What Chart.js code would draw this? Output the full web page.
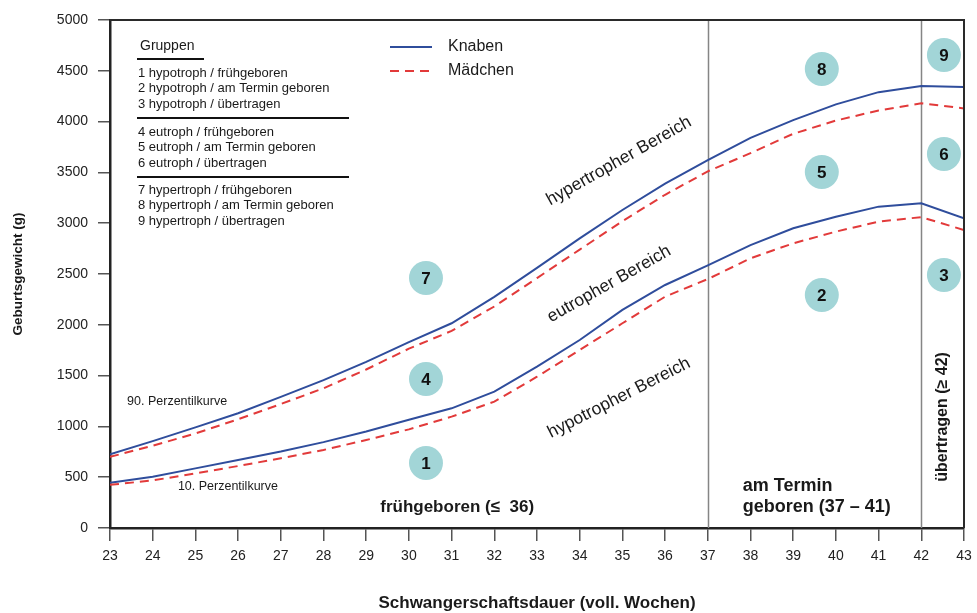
<!DOCTYPE html>
<html>
<head>
<meta charset="utf-8">
<script src="https://cdn.jsdelivr.net/npm/chart.js@4/dist/chart.umd.min.js"></script>
<style>
  html, body { margin: 0; padding: 0; background: #fff; }
  #wrap { width: 977px; height: 613px; }
</style>
</head>
<body>
<div id="wrap"><canvas id="c" width="977" height="613"></canvas></div>
<script>
// Gestational age in completed weeks
const weeks = [23, 24, 25, 26, 27, 28, 29, 30, 31, 32, 33, 34, 35, 36, 37, 38, 39, 40, 41, 42, 43];

// Birth weight percentiles (g)
const knaben90   = [725, 855, 990, 1130, 1290, 1455, 1635, 1830, 2015, 2275, 2560, 2850, 3130, 3390, 3620, 3840, 4015, 4170, 4290, 4350, 4340];
const maedchen90 = [700, 810, 930, 1070, 1220, 1375, 1560, 1765, 1940, 2180, 2460, 2740, 3020, 3280, 3510, 3690, 3880, 4010, 4110, 4180, 4130];
const knaben10   = [445, 505, 587, 670, 752, 845, 950, 1065, 1178, 1342, 1588, 1850, 2146, 2392, 2585, 2785, 2950, 3064, 3163, 3196, 3048];
const maedchen10 = [425, 468, 538, 610, 686, 768, 866, 971, 1096, 1243, 1489, 1752, 2015, 2277, 2450, 2654, 2802, 2917, 3015, 3060, 2933];

// Axis ticks
const xTicks = weeks;
const yTicks = [0, 500, 1000, 1500, 2000, 2500, 3000, 3500, 4000, 4500, 5000];

// Boundaries between preterm / term / post-term
const grenzWochen = [37, 42];

// Group numbers and their places on the chart (week, weight)
const gruppenNr = ['1', '2', '3', '4', '5', '6', '7', '8', '9'];
const gruppenWoche = [30.4, 39.67, 42.53, 30.4, 39.67, 42.53, 30.4, 39.67, 42.53];
const gruppenGewicht = [640, 2293, 2490, 1467, 3504, 3681, 2460, 4518, 4655];

const gruppenText = [
  ['1 hypotroph / frühgeboren', '2 hypotroph / am Termin geboren', '3 hypotroph / übertragen'],
  ['4 eutroph / frühgeboren', '5 eutroph / am Termin geboren', '6 eutroph / übertragen'],
  ['7 hypertroph / frühgeboren', '8 hypertroph / am Termin geboren', '9 hypertroph / übertragen']
];

const FONT = '"Liberation Sans", Arial, Helvetica, sans-serif';
const TEXT = '#1a1a1a';
const BLUE = '#2f4d9c';
const RED = '#e23a3a';
const TEAL = '#a2d5d7';
const DASH = [9, 6];

const toPoints = arr => weeks.map((w, i) => ({ x: w, y: arr[i] }));

const lineStyle = (color, dashed) => ({
  borderColor: color,
  backgroundColor: color,
  borderWidth: 2,
  borderDash: dashed ? DASH : [],
  pointRadius: 0,
  pointHoverRadius: 0,
  tension: 0,
  fill: false
});

// Annotation layer: region borders, group markers, labels, frame, legends, axis titles
const decor = {
  id: 'decor',
  beforeDatasetsDraw(chart) {
    const { ctx, chartArea: a, scales: { x, y } } = chart;
    ctx.save();
    ctx.strokeStyle = '#858585';
    ctx.lineWidth = 1.5;
    grenzWochen.forEach(w => {
      const px = Math.round(x.getPixelForValue(w)) + 0.5;
      ctx.beginPath();
      ctx.moveTo(px, a.top);
      ctx.lineTo(px, a.bottom);
      ctx.stroke();
    });

    // group markers
    gruppenNr.forEach((n, i) => {
      const cx = x.getPixelForValue(gruppenWoche[i]);
      const cy = y.getPixelForValue(gruppenGewicht[i]);
      ctx.fillStyle = TEAL;
      ctx.beginPath();
      ctx.arc(cx, cy, 17, 0, Math.PI * 2);
      ctx.fill();
      ctx.fillStyle = '#111';
      ctx.font = 'bold 17px ' + FONT;
      ctx.textAlign = 'center';
      ctx.textBaseline = 'middle';
      ctx.fillText(n, cx, cy + 1);
    });
    ctx.restore();
  },
  afterDraw(chart) {
    const { ctx, chartArea: a, scales: { x, y } } = chart;
    ctx.save();

    // top and right frame
    ctx.strokeStyle = '#2a2a2a';
    ctx.lineWidth = 2;
    ctx.beginPath();
    ctx.moveTo(a.left, a.top);
    ctx.lineTo(a.right, a.top);
    ctx.lineTo(a.right, a.bottom);
    ctx.stroke();

    ctx.fillStyle = TEXT;

    // rotated range labels
    const rotText = (txt, w, g, deg, font) => {
      ctx.save();
      ctx.translate(x.getPixelForValue(w), y.getPixelForValue(g));
      ctx.rotate(deg * Math.PI / 180);
      ctx.font = font;
      ctx.textAlign = 'center';
      ctx.textBaseline = 'middle';
      ctx.fillText(txt, 0, 0);
      ctx.restore();
    };
    rotText('hypertropher Bereich', 34.92, 3612, -29.5, '17.5px ' + FONT);
    rotText('eutropher Bereich', 34.69, 2402, -29.5, '17.5px ' + FONT);
    rotText('hypotropher Bereich', 34.92, 1280, -27, '17.5px ' + FONT);
    rotText('übertragen (≥ 42)', 42.51, 1093, -90, 'bold 16px ' + FONT);

    // percentile curve names
    ctx.font = '12.5px ' + FONT;
    ctx.textAlign = 'left';
    ctx.textBaseline = 'middle';
    ctx.fillText('90. Perzentilkurve', x.getPixelForValue(23.4), y.getPixelForValue(1240));
    ctx.fillText('10. Perzentilkurve', x.getPixelForValue(24.59), y.getPixelForValue(404));

    // period labels
    ctx.font = 'bold 17px ' + FONT;
    ctx.textAlign = 'center';
    ctx.fillText('frühgeboren (≤  36)', x.getPixelForValue(31.13), y.getPixelForValue(207));
    ctx.font = 'bold 18px ' + FONT;
    ctx.textAlign = 'left';
    ctx.fillText('am Termin', x.getPixelForValue(37.82), y.getPixelForValue(413));
    ctx.fillText('geboren (37 – 41)', x.getPixelForValue(37.82), y.getPixelForValue(207));

    // group key
    const gx = a.left + 28;
    ctx.font = '14px ' + FONT;
    ctx.fillText('Gruppen', gx + 2, a.top + 26);
    ctx.strokeStyle = '#111';
    ctx.lineWidth = 2;
    ctx.beginPath();
    ctx.moveTo(gx - 1, a.top + 39);
    ctx.lineTo(gx + 66, a.top + 39);
    ctx.stroke();
    ctx.font = '13px ' + FONT;
    const blockTop = [53, 112, 170];
    gruppenText.forEach((block, b) => {
      block.forEach((t, i) => ctx.fillText(t, gx, a.top + blockTop[b] + i * 15.5));
      if (b < 2) {
        const ly = a.top + blockTop[b] + 45;
        ctx.beginPath();
        ctx.moveTo(gx - 1, ly);
        ctx.lineTo(gx + 211, ly);
        ctx.stroke();
      }
    });

    // series legend
    const lx = 390, items = [['Knaben', BLUE, false, 47], ['Mädchen', RED, true, 71]];
    items.forEach(([label, color, dashed, ly]) => {
      ctx.strokeStyle = color;
      ctx.lineWidth = 2;
      ctx.setLineDash(dashed ? DASH : []);
      ctx.beginPath();
      ctx.moveTo(lx, ly);
      ctx.lineTo(lx + 42, ly);
      ctx.stroke();
      ctx.setLineDash([]);
      ctx.fillStyle = TEXT;
      ctx.font = '16px ' + FONT;
      ctx.textAlign = 'left';
      ctx.fillText(label, lx + 58, ly);
    });

    // axis titles
    ctx.font = 'bold 17px ' + FONT;
    ctx.textAlign = 'center';
    ctx.fillText('Schwangerschaftsdauer (voll. Wochen)', (a.left + a.right) / 2, 603);
    ctx.save();
    ctx.translate(18, (a.top + a.bottom) / 2);
    ctx.rotate(-Math.PI / 2);
    ctx.font = 'bold 13.5px ' + FONT;
    ctx.fillText('Geburtsgewicht (g)', 0, 0);
    ctx.restore();

    ctx.restore();
  }
};

Chart.defaults.font.family = FONT;
Chart.defaults.color = TEXT;

new Chart(document.getElementById('c'), {
  type: 'line',
  data: {
    datasets: [
      { label: 'Mädchen 90', data: toPoints(maedchen90), ...lineStyle(RED, true) },
      { label: 'Mädchen 10', data: toPoints(maedchen10), ...lineStyle(RED, true) },
      { label: 'Knaben 90', data: toPoints(knaben90), ...lineStyle(BLUE, false) },
      { label: 'Knaben 10', data: toPoints(knaben10), ...lineStyle(BLUE, false) }
    ]
  },
  options: {
    responsive: false,
    devicePixelRatio: 1,
    animation: false,
    layout: { padding: { top: 20, right: 13, left: 0, bottom: 0 } },
    plugins: { legend: { display: false }, tooltip: { enabled: false } },
    scales: {
      x: {
        type: 'linear',
        min: 23,
        max: 43,
        afterBuildTicks: s => { s.ticks = xTicks.map(v => ({ value: v })); },
        afterFit: s => { s.height = 85; s.paddingLeft = 0; s.paddingRight = 0; },
        grid: { drawOnChartArea: false, drawTicks: true, tickLength: 13, color: '#555', lineWidth: 1.5 },
        border: { display: true, color: '#222', width: 2.5 },
        ticks: { font: { size: 14 }, color: '#222', padding: 7, maxRotation: 0, autoSkip: false,
                 callback: v => String(v) }
      },
      y: {
        type: 'linear',
        min: 0,
        max: 5000,
        afterBuildTicks: s => { s.ticks = yTicks.map(v => ({ value: v })); },
        afterFit: s => { s.width = 110; s.paddingTop = 0; s.paddingBottom = 0; },
        grid: { drawOnChartArea: false, drawTicks: true, tickLength: 12, color: '#555', lineWidth: 1.5 },
        border: { display: true, color: '#222', width: 2.5 },
        ticks: { font: { size: 14 }, color: '#222', padding: 10, callback: v => String(v) }
      }
    }
  },
  plugins: [decor]
});
</script>
</body>
</html>
